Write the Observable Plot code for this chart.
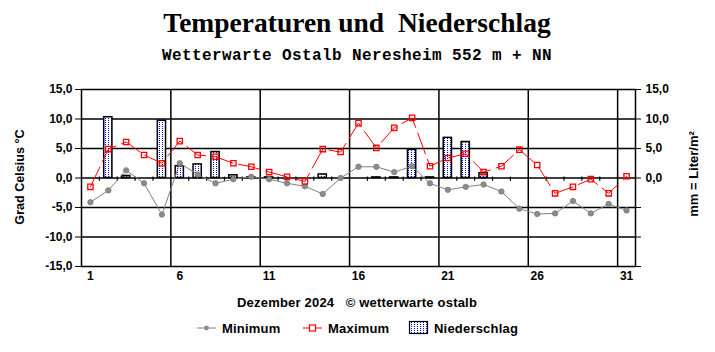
<!DOCTYPE html>
<html>
<head>
<meta charset="utf-8">
<script src="https://cdn.jsdelivr.net/npm/d3@7"></script>
<script src="https://cdn.jsdelivr.net/npm/@observablehq/plot@0.6"></script>
<style>
  html, body { margin: 0; padding: 0; background: #fff; }
  svg { display: block; }
</style>
</head>
<body>
<div id="chart"></div>
<script>
const days = [1,2,3,4,5,6,7,8,9,10,11,12,13,14,15,16,17,18,19,20,21,22,23,24,25,26,27,28,29,30,31];
const tMin = [-4.1,-2.1,1.3,-0.9,-6.2,2.5,0.6,-0.9,-0.2,0.2,-0.2,-0.9,-1.4,-2.7,0.0,1.9,1.9,1.0,2.0,-0.9,-2.0,-1.5,-1.1,-2.3,-5.2,-6.1,-6.0,-3.9,-6.0,-4.4,-5.5];
const tMax = [-1.5,4.9,6.1,3.9,2.5,6.25,3.9,3.6,2.5,1.9,1.0,0.2,-0.6,4.9,4.4,9.3,5.1,8.5,10.2,2.0,3.4,4.1,1.0,2.0,4.8,2.2,-2.6,-1.5,-0.2,-2.6,0.3];
const precip = [0,10.3,0.35,0,9.7,2.0,2.3,4.4,0.45,0.1,0.1,0,0,0.6,0,0,0.1,0.1,4.8,0.1,6.8,6.1,0.8,0,0,0,0,0,0,0,0];
const yTicks = [-15,-10,-5,0,5,10,15];
const xTicks = [1,6,11,16,21,26,31];
const gridX = [5.5,10.5,15.5,20.5,25.5,30.5];
const gridY = [-10,-5,0,5,10];
const dayBounds = [1.5,2.5,3.5,4.5,6.5,7.5,8.5,9.5,11.5,12.5,13.5,14.5,16.5,17.5,18.5,19.5,21.5,22.5,23.5,24.5,26.5,27.5,28.5,29.5];

const title = "Temperaturen und  Niederschlag";
const subtitle = "Wetterwarte Ostalb Neresheim 552 m + NN";
const footer = "Dezember 2024   \u00A9 wetterwarte ostalb";
const yLabelLeft = "Grad Celsius °C";
const yLabelRight = "mm = Liter/m²";
const legendLabels = ["Minimum", "Maximum", "Niederschlag"];

const bars = days.map((d, i) => ({day: d, p: precip[i]})).filter(d => d.p > 0);
const fmt = v => v.toFixed(1).replace(".", ",");

const plot = Plot.plot({
  width: 715, height: 352,
  marginTop: 89, marginBottom: 86, marginLeft: 81, marginRight: 80,
  style: {fontFamily: "'Liberation Sans', Arial, sans-serif", fontWeight: "bold", fontSize: "12px", color: "black", background: "white", overflow: "visible"},
  x: {domain: [0.5, 31.5]},
  y: {domain: [-15, 15]},
  marks: [
    Plot.ruleY(gridY, {stroke: "black", strokeWidth: 1.5}),
    Plot.ruleX(gridX, {stroke: "black", strokeWidth: 1.5}),
    Plot.ruleX(dayBounds, {y1: -0.55, y2: 0.15, stroke: "black", strokeWidth: 1.2}),
    Plot.rectY(bars, {x1: d => d.day - 0.23, x2: d => d.day + 0.23, y: "p", fill: "url(#dots)", stroke: "black", strokeWidth: 1.5}),
    Plot.line(tMin, {x: (d, i) => days[i], y: d => d, stroke: "#808080", strokeWidth: 1}),
    Plot.line(tMax, {x: (d, i) => days[i], y: d => d, stroke: "#ff0000", strokeWidth: 1, strokeDasharray: "22,6"}),
    Plot.dot(tMin, {x: (d, i) => days[i], y: d => d, r: 2.7, fill: "#8c8c8c", stroke: "#7a7a7a", strokeWidth: 0.8}),
    Plot.dot(tMax, {x: (d, i) => days[i], y: d => d, symbol: "square", r: 3.0, fill: "white", fillOpacity: 0, stroke: "#ff0000", strokeWidth: 1.3}),
    Plot.frame({stroke: "black", strokeWidth: 1.5}),
    Plot.axisY({anchor: "left", ticks: yTicks, tickFormat: fmt, tickSize: 6, tickPadding: 3, label: null}),
    Plot.axisY({anchor: "right", ticks: yTicks, tickFormat: v => v >= 0 ? fmt(v) : "", tickSize: 5, tickPadding: 5, label: null}),
    Plot.axisX({ticks: xTicks, tickSize: 0, tickPadding: 5, tickFormat: d => String(d), label: null})
  ]
});

document.getElementById("chart").appendChild(plot);

const svg = d3.select(plot);
const defs = svg.insert("defs", ":first-child");
const pat = defs.append("pattern").attr("id", "dots").attr("patternUnits", "userSpaceOnUse")
  .attr("width", 3).attr("height", 2);
pat.append("rect").attr("width", 3).attr("height", 2).attr("fill", "white");
pat.append("rect").attr("width", 1).attr("height", 1).attr("fill", "#0000ff");

const sans = "'Liberation Sans', Arial, sans-serif";
svg.append("text").attr("x", 357).attr("y", 32).attr("text-anchor", "middle")
  .attr("font-family", "'Liberation Serif', 'Times New Roman', serif").attr("font-weight", "bold")
  .attr("font-size", 27.5).attr("fill", "black").style("white-space", "pre").text(title);
svg.append("text").attr("x", 357).attr("y", 60).attr("text-anchor", "middle")
  .attr("font-family", "'Liberation Mono', 'Courier New', monospace").attr("font-weight", "bold")
  .attr("font-size", 16).attr("letter-spacing", 0.4).attr("fill", "black").style("white-space", "pre").text(subtitle);

svg.append("text").attr("transform", "translate(24,177) rotate(-90)").attr("text-anchor", "middle")
  .attr("font-family", sans).attr("font-weight", "bold").attr("font-size", 12.6).attr("fill", "black").text(yLabelLeft);
svg.append("text").attr("transform", "translate(698,174) rotate(-90)").attr("text-anchor", "middle")
  .attr("font-family", sans).attr("font-weight", "bold").attr("font-size", 13).attr("fill", "black").text(yLabelRight);

svg.append("text").attr("x", 237).attr("y", 307).attr("text-anchor", "start")
  .attr("font-family", sans).attr("font-weight", "bold").attr("font-size", 13).attr("letter-spacing", 0.2).attr("fill", "black")
  .style("white-space", "pre").text(footer);

// legend
const ly = 328;
const lg = svg.append("g").attr("font-family", sans).attr("font-weight", "bold").attr("font-size", 13).attr("letter-spacing", 0.2).attr("fill", "black").attr("text-anchor", "start");
lg.append("line").attr("x1", 197).attr("x2", 216).attr("y1", ly).attr("y2", ly).attr("stroke", "#808080");
lg.append("circle").attr("cx", 206.5).attr("cy", ly).attr("r", 2.4).attr("fill", "#8c8c8c");
lg.append("text").attr("x", 222).attr("y", ly + 5).text(legendLabels[0]);
lg.append("line").attr("x1", 303).attr("x2", 322).attr("y1", ly).attr("y2", ly).attr("stroke", "#ff0000");
lg.append("rect").attr("x", 309.5).attr("y", ly - 3).attr("width", 6).attr("height", 6).attr("fill", "white").attr("stroke", "#ff0000").attr("stroke-width", 1.2);
lg.append("text").attr("x", 328).attr("y", ly + 5).text(legendLabels[1]);
lg.append("rect").attr("x", 409.5).attr("y", 321.5).attr("width", 18).attr("height", 12).attr("fill", "url(#dots)").attr("stroke", "black").attr("stroke-width", 1.2);
lg.append("text").attr("x", 434).attr("y", ly + 5).text(legendLabels[2]);
</script>
</body>
</html>
